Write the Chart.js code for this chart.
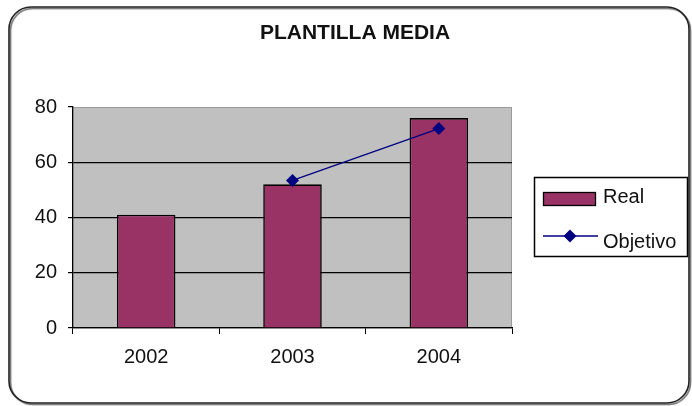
<!DOCTYPE html>
<html>
<head>
<meta charset="utf-8">
<script src="https://cdn.jsdelivr.net/npm/chart.js@4/dist/chart.umd.min.js"></script>
<style>
html,body{margin:0;padding:0;background:#fff;}
#wrap{width:692px;height:406px;position:relative;}
</style>
</head>
<body>
<div id="wrap"><canvas id="c"></canvas></div>
<script>
const chartTitle = 'PLANTILLA MEDIA';
const categories = ['2002', '2003', '2004'];
const realValues = [41, 52, 76];
const objetivoValues = [null, 53.4, 72.2];
const seriesNames = ['Real', 'Objetivo'];
const yTicks = [0, 20, 40, 60, 80];

const FONT = '"Liberation Sans", Arial, sans-serif';
const BAR_COLOR = '#993366';
const LINE_COLOR = '#000080';
const TEXT_COLOR = '#111';

const decor = {
  id: 'decor',
  beforeDraw(chart) {
    const ctx = chart.ctx;
    const a = chart.chartArea;
    ctx.save();
    ctx.fillStyle = '#fff';
    ctx.fillRect(0, 0, chart.width, chart.height);
    // outer rounded border
    ctx.beginPath();
    ctx.roundRect(9, 7, 680, 396, 22);
    ctx.shadowColor = 'rgba(0,0,0,0.6)';
    ctx.shadowOffsetX = 1.5;
    ctx.shadowOffsetY = 1.5;
    ctx.shadowBlur = 1;
    ctx.lineWidth = 1.6;
    ctx.strokeStyle = '#222';
    ctx.stroke();
    ctx.shadowColor = 'transparent';
    // plot area
    ctx.fillStyle = '#c0c0c0';
    ctx.fillRect(a.left, a.top, a.right - a.left, a.bottom - a.top);
    ctx.strokeStyle = '#9a9a9a';
    ctx.lineWidth = 1;
    ctx.beginPath();
    ctx.moveTo(a.left, a.top + 0.5);
    ctx.lineTo(a.right - 0.5, a.top + 0.5);
    ctx.lineTo(a.right - 0.5, a.bottom);
    ctx.stroke();
    // title
    ctx.fillStyle = TEXT_COLOR;
    ctx.font = 'bold 21px ' + FONT;
    ctx.textAlign = 'center';
    ctx.textBaseline = 'middle';
    ctx.fillText(chartTitle, 355, 33);
    ctx.restore();
  },
  afterDraw(chart) {
    const ctx = chart.ctx;
    ctx.save();
    // legend box
    ctx.strokeStyle = '#000';
    ctx.lineWidth = 1.5;
    ctx.strokeRect(534.5, 177.5, 153, 79);
    // Real swatch
    ctx.fillStyle = BAR_COLOR;
    ctx.fillRect(543, 192, 53, 14);
    ctx.lineWidth = 1.3;
    ctx.strokeRect(543.5, 192.5, 52, 13);
    // Objetivo symbol
    ctx.strokeStyle = LINE_COLOR;
    ctx.lineWidth = 1.5;
    ctx.beginPath();
    ctx.moveTo(543, 236);
    ctx.lineTo(598, 236);
    ctx.stroke();
    ctx.fillStyle = LINE_COLOR;
    ctx.beginPath();
    ctx.moveTo(570 - 6.5, 236);
    ctx.lineTo(570, 236 - 6.5);
    ctx.lineTo(570 + 6.5, 236);
    ctx.lineTo(570, 236 + 6.5);
    ctx.closePath();
    ctx.fill();
    // legend text
    ctx.fillStyle = TEXT_COLOR;
    ctx.font = '20px ' + FONT;
    ctx.textAlign = 'left';
    ctx.textBaseline = 'middle';
    ctx.fillText(seriesNames[0], 603, 197);
    ctx.fillText(seriesNames[1], 603, 242);
    ctx.restore();
  }
};

new Chart(document.getElementById('c'), {
  type: 'bar',
  data: {
    labels: categories,
    datasets: [
      {
        type: 'line',
        label: seriesNames[1],
        data: objetivoValues,
        borderColor: LINE_COLOR,
        backgroundColor: LINE_COLOR,
        borderWidth: 1.3,
        pointStyle: 'rectRot',
        pointRadius: 6.5,
        pointBorderWidth: 0,
        pointBackgroundColor: LINE_COLOR,
        order: 0
      },
      {
        label: seriesNames[0],
        data: realValues,
        backgroundColor: BAR_COLOR,
        borderColor: '#000',
        borderWidth: 1.6,
        borderSkipped: 'start',
        barPercentage: 0.4,
        categoryPercentage: 1.0,
        order: 1
      }
    ]
  },
  options: {
    responsive: true,
    maintainAspectRatio: false,
    animation: false,
    events: [],
    layout: { padding: { top: 107, left: 10, right: 180, bottom: 0 } },
    plugins: {
      legend: { display: false },
      title: { display: false },
      tooltip: { enabled: false }
    },
    scales: {
      x: {
        offset: true,
        grid: {
          offset: true,
          drawOnChartArea: false,
          drawTicks: true,
          tickLength: 6,
          color: '#000',
          lineWidth: 1
        },
        border: { display: true, color: '#000', width: 1.3 },
        ticks: {
          color: TEXT_COLOR,
          font: { family: FONT, size: 20 },
          padding: 11
        },
        afterFit(scale) { scale.height = 78; }
      },
      y: {
        min: 0,
        max: 80,
        afterBuildTicks(scale) { scale.ticks = yTicks.map(v => ({ value: v })); },
        grid: {
          color: (c) => (c.tick && c.tick.value === 80) ? 'rgba(0,0,0,0)' : '#000',
          tickColor: '#000',
          lineWidth: 1.2,
          drawTicks: true,
          tickLength: 5
        },
        border: { display: true, color: '#000', width: 1.3 },
        ticks: {
          color: TEXT_COLOR,
          font: { family: FONT, size: 20 },
          padding: 11
        },
        afterFit(scale) { scale.width = 63; }
      }
    }
  },
  plugins: [decor]
});
</script>
</body>
</html>
